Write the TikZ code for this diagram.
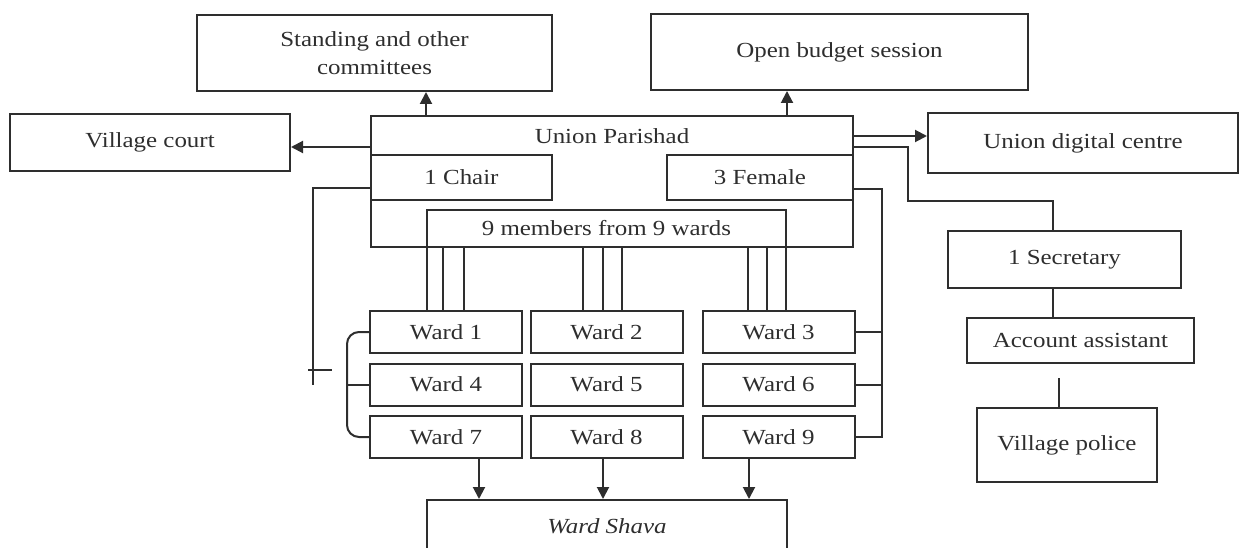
\documentclass[tikz,border=0pt]{standalone}
\usepackage{fontspec}
\setmainfont{Liberation Serif}[FakeStretch=1.16]
\usetikzlibrary{arrows.meta}
\definecolor{ink}{gray}{0.18}
\begin{document}
\begin{tikzpicture}[x=1pt,y=-1pt,
  box/.style={draw=ink, text=ink, line width=2pt, rectangle, inner sep=0pt, align=center,
    font=\fontsize{21.5}{28}\selectfont},
  conn/.style={draw=ink, line width=2pt},
  arr/.style={draw=ink, fill=ink, line width=2pt, -{Triangle[length=12pt,width=12pt]}}]
\useasboundingbox (0,0) rectangle (1248,548);
% top boxes
\node[box, minimum width=355pt, minimum height=76pt] (stand) at (374.5,53) {Standing and other\\committees};
\node[box, minimum width=377pt, minimum height=76pt] (budget) at (839.5,52) {Open budget session};
\node[box, minimum width=280pt, minimum height=57pt] (court) at (150,142.5) {Village court};
\node[box, minimum width=310pt, minimum height=60pt] (udc) at (1083,143) {Union digital centre};
% union parishad
\node[box, minimum width=482pt, minimum height=131pt] (up) at (612,181.5) {};
\node[text=ink, font=\fontsize{21.5}{28}\selectfont, inner sep=0pt] (uplabel) at (612,136) {Union Parishad};
\node[box, minimum width=181pt, minimum height=45pt] (chair) at (461.5,177.5) {1 Chair};
\node[box, minimum width=186pt, minimum height=45pt] (female) at (760,177.5) {3 Female};
\node[box, minimum width=359pt, minimum height=37pt] (members) at (606.5,228.5) {9 members from 9 wards};
% wards
\foreach \n/\cx/\cy in {1/446/332, 2/606.5/332, 3/778.5/332,
                        4/446/384.5, 5/606.5/384.5, 6/778.5/384.5,
                        7/446/437, 8/606.5/437, 9/778.5/437}{
  \node[box, minimum width=152pt, minimum height=42pt] (w\n) at (\cx,\cy) {Ward \n};
}
\node[box, minimum width=360pt, minimum height=52pt] (shava) at (607,526) {\itshape Ward Shava};
% right column
\node[box, minimum width=233pt, minimum height=57pt] (sec) at (1064.5,259.5) {1 Secretary};
\node[box, minimum width=227pt, minimum height=45pt] (acc) at (1080.5,340.5) {Account assistant};
\node[box, minimum width=180pt, minimum height=74pt] (police) at (1067,445) {Village police};
% top arrows
\draw[arr] (up.north -| members.west) -- (stand.south -| members.west);
\draw[arr] (up.north -| members.east) -- (budget.south -| members.east);
\draw[arr] ([yshift=-4.5pt]court.east -| up.west) -- ([yshift=-4.5pt]court.east);
\draw[arr] ([yshift=7pt]udc.west -| up.east) -- ([yshift=7pt]udc.west);
% to secretary
\coordinate (s1) at (908,147);
\coordinate (s2) at (1053,201);
\draw[conn] (up.east |- s1) -- (s1) |- (s2) -- (sec.north -| s2);
\draw[conn] (sec.south -| s2) -- (acc.north -| s2);
\coordinate (p1) at (1059,378);
\draw[conn] (p1) -- (police.north -| p1);
% chair tick
\coordinate (c1) at (313,188);
\coordinate (c2) at (313,385);
\draw[conn] (up.west |- c1) -- (c1) -- (c2);
\coordinate (t1) at (308,370);
\coordinate (t2) at (332,370);
\draw[conn] (t1) -- (t2);
% female to wards 3,6,9
\coordinate (f1) at (882,189);
\draw[conn] (female.east |- f1) -- (f1) -- (f1 |- w9.east) -- (w9.east);
\draw[conn] (w3.east) -- (w3.east -| f1);
\draw[conn] (w6.east) -- (w6.east -| f1);
% left bracket
\coordinate (b1) at (347,384.5);
\draw[conn, rounded corners=12pt] (w1.west) -| (b1) |- (w7.west);
\draw[conn] (w4.west) -- (b1);
% member lines
\foreach \x in {427,443,464}{\draw[conn] (members.south -| \x,0) -- (w1.north -| \x,0);}
\foreach \x in {583,603,622}{\draw[conn] (members.south -| \x,0) -- (w2.north -| \x,0);}
\foreach \x in {748,767,786}{\draw[conn] (members.south -| \x,0) -- (w3.north -| \x,0);}
% wards to shava
\draw[arr] (w7.south -| 479,0) -- (shava.north -| 479,0);
\draw[arr] (w8.south -| 603,0) -- (shava.north -| 603,0);
\draw[arr] (w9.south -| 749,0) -- (shava.north -| 749,0);
\end{tikzpicture}
\end{document}
